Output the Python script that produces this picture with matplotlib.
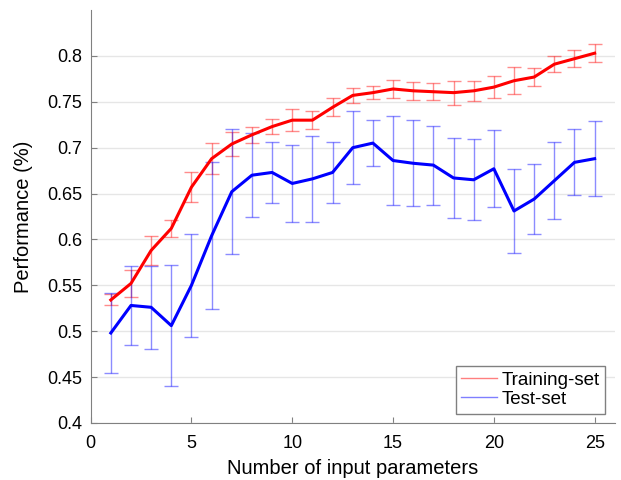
import numpy as np
import matplotlib.pyplot as plt

plt.rcParams['font.family'] = ['Liberation Sans', 'DejaVu Sans']

n_params = np.arange(1, 26)

train_mean = [0.534, 0.552, 0.588, 0.612, 0.657, 0.688, 0.704, 0.714, 0.723, 0.730,
              0.730, 0.744, 0.757, 0.760, 0.764, 0.762, 0.761, 0.760, 0.762, 0.766,
              0.773, 0.777, 0.791, 0.797, 0.803]
train_err = [0.006, 0.015, 0.016, 0.009, 0.016, 0.017, 0.013, 0.009, 0.008, 0.012,
             0.010, 0.010, 0.008, 0.007, 0.010, 0.010, 0.009, 0.013, 0.011, 0.012,
             0.015, 0.010, 0.009, 0.009, 0.010]

test_mean = [0.498, 0.528, 0.526, 0.506, 0.550, 0.604, 0.652, 0.670, 0.673, 0.661,
             0.666, 0.673, 0.700, 0.705, 0.686, 0.683, 0.681, 0.667, 0.665, 0.677,
             0.631, 0.644, 0.664, 0.684, 0.688]
test_err = [0.044, 0.043, 0.045, 0.066, 0.056, 0.080, 0.068, 0.046, 0.033, 0.042,
            0.047, 0.033, 0.040, 0.025, 0.049, 0.047, 0.043, 0.044, 0.044, 0.042,
            0.046, 0.038, 0.042, 0.036, 0.041]

fig, ax = plt.subplots(figsize=(6.21, 4.8), dpi=100)
fig.subplots_adjust(left=0.146, right=0.99, top=0.979, bottom=0.119)

ax.errorbar(n_params, train_mean, yerr=train_err, fmt='none', ecolor=(1, 0, 0, 0.45),
            elinewidth=1, capsize=5, capthick=1)
ax.errorbar(n_params, test_mean, yerr=test_err, fmt='none', ecolor=(0, 0, 1, 0.45),
            elinewidth=1, capsize=5, capthick=1)
ax.plot(n_params, train_mean, color='red', lw=2.2)
ax.plot(n_params, test_mean, color='blue', lw=2.2)

# legend uses the thin light lines, like the original
ax.plot([], [], color=(1, 0, 0, 0.5), lw=1, label='Training-set')
ax.plot([], [], color=(0, 0, 1, 0.5), lw=1, label='Test-set')
leg = ax.legend(loc='lower right', fontsize=13.5, fancybox=False, framealpha=1,
                edgecolor='#808080', handlelength=1.9, handletextpad=0.25,
                borderaxespad=0.5, borderpad=0.3, labelspacing=0.1)
leg.get_frame().set_linewidth(1)

ax.set_xlim(0, 26)
ax.set_ylim(0.4, 0.85)
ax.set_xticks([0, 5, 10, 15, 20, 25])
ax.set_yticks(np.arange(0.4, 0.801, 0.05))
ax.set_yticklabels(['0.4', '0.45', '0.5', '0.55', '0.6', '0.65', '0.7', '0.75', '0.8'])
ax.grid(axis='y', color='#e6e6e6', lw=1)
ax.set_axisbelow(True)

for s in ['top', 'right']:
    ax.spines[s].set_visible(False)
for s in ['left', 'bottom']:
    ax.spines[s].set_color('#808080')
ax.tick_params(direction='in', length=4, color='#808080', labelsize=13)
ax.tick_params(axis='x', pad=9)
ax.tick_params(axis='y', pad=6)

ax.set_xlabel('Number of input parameters', fontsize=14.5, labelpad=5)
ax.set_ylabel('Performance (%)', fontsize=14.5, labelpad=10)

fig.savefig('out.png', dpi=100)
